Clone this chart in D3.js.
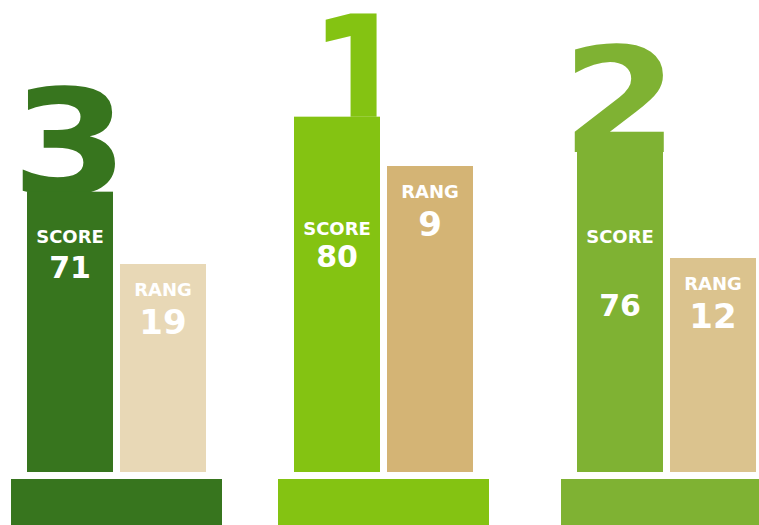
<!DOCTYPE html>
<html>
<head>
<meta charset="utf-8">
<script src="https://cdn.jsdelivr.net/npm/d3@7"></script>
<style>
  body { margin: 0; background: #fff; }
  text { font-family: 'DejaVu Sans', sans-serif; font-weight: bold; fill: #fff; }
</style>
</head>
<body>
<div id="chart"></div>
<script>
// podium order, left to right
const places = ['3', '1', '2']
const scores = [71, 80, 76]
const rangs = [19, 9, 12]
const scoreLabel = 'SCORE'
const rangLabel = 'RANG'

const width = 759, height = 525
const barW = 86, barGap = 7, baseTop = 479, barBottom = 472
const scoreColors = ['#37751e', '#84c312', '#7fb233']
const rangColors = ['#e8d8b6', '#d4b475', '#dbc38e']
// per group label baselines (score label, score value)
const scoreText = [[243, 278], [235, 267], [243, 316]]
// big digit tweaks: x offset, baseline drop, x scale, y scale
const digitFit = { '3': [0, 2, 1.15, 1], '1': [23, 24, 1.0, 1.2], '2': [0, 2, 1.15, 1] }

const groupX = d3.scaleOrdinal().domain(places).range([27, 294, 577])
const scoreY = d3.scaleLinear().domain([40, 100]).range([450, -50])
const rangY = d3.scaleLinear().domain([9, 12, 19]).range([166, 258, 264])

const data = places.map((p, i) => ({ place: p, score: scores[i], rang: rangs[i], i }))

const svg = d3.select('#chart').append('svg')
  .attr('width', width)
  .attr('height', height)

// clip digits just below the top of their score bar
svg.append('defs').selectAll('clipPath')
  .data(data)
  .enter().append('clipPath')
  .attr('id', d => 'digit-clip-' + d.i)
  .append('rect')
  .attr('x', -60)
  .attr('y', -200)
  .attr('width', 300)
  .attr('height', d => scoreY(d.score) + 200 + (d.place === '1' ? 0 : 4))

const g = svg.selectAll('g.podium')
  .data(data)
  .enter().append('g')
  .attr('class', 'podium')
  .attr('transform', d => 'translate(' + groupX(d.place) + ',0)')

// base block
g.append('rect')
  .attr('x', -16)
  .attr('y', baseTop)
  .attr('width', barW * 2 + barGap + 32)
  .attr('height', height - baseTop)
  .attr('fill', d => scoreColors[d.i])

// big place digit sitting on the score bar
g.append('g')
  .attr('clip-path', d => 'url(#digit-clip-' + d.i + ')')
  .append('text')
  .attr('transform', d => {
    const f = digitFit[d.place]
    return 'translate(' + (barW / 2 + f[0]) + ',' + (scoreY(d.score) + f[1]) + ') scale(' + f[2] + ',' + f[3] + ')'
  })
  .attr('text-anchor', 'middle')
  .style('font-size', '146px')
  .style('fill', d => scoreColors[d.i])
  .text(d => d.place)

// score bars
g.append('rect')
  .attr('x', 0)
  .attr('y', d => scoreY(d.score))
  .attr('width', barW)
  .attr('height', d => barBottom - scoreY(d.score))
  .attr('fill', d => scoreColors[d.i])

// rang bars
g.append('rect')
  .attr('x', barW + barGap)
  .attr('y', d => rangY(d.rang))
  .attr('width', barW)
  .attr('height', d => barBottom - rangY(d.rang))
  .attr('fill', d => rangColors[d.i])

g.append('text')
  .attr('x', barW / 2)
  .attr('y', d => scoreText[d.i][0])
  .attr('text-anchor', 'middle')
  .style('font-size', '18px')
  .text(scoreLabel)

g.append('text')
  .attr('x', barW / 2)
  .attr('y', d => scoreText[d.i][1])
  .attr('text-anchor', 'middle')
  .style('font-size', '30px')
  .text(d => d.score)

g.append('text')
  .attr('x', barW * 1.5 + barGap)
  .attr('y', d => rangY(d.rang) + 32)
  .attr('text-anchor', 'middle')
  .style('font-size', '18px')
  .text(rangLabel)

g.append('text')
  .attr('x', barW * 1.5 + barGap)
  .attr('y', d => rangY(d.rang) + 70)
  .attr('text-anchor', 'middle')
  .style('font-size', '34px')
  .text(d => d.rang)
</script>
</body>
</html>
